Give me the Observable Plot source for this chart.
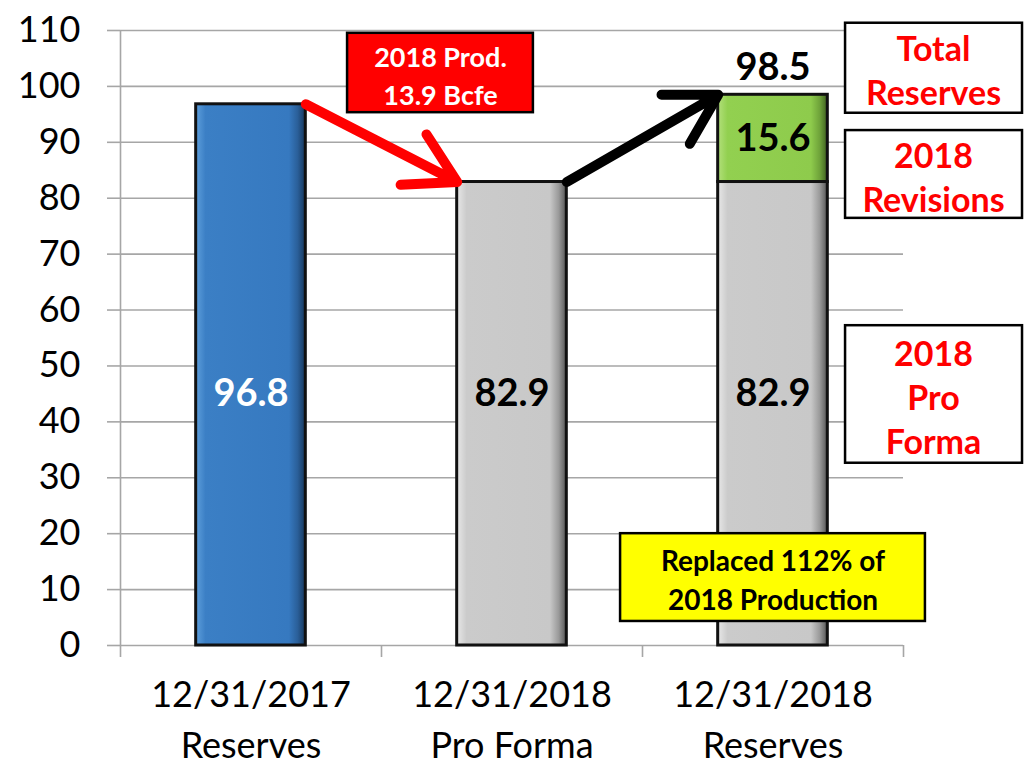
<!DOCTYPE html>
<html>
<head>
<meta charset="utf-8">
<script src="https://cdn.jsdelivr.net/npm/d3@7"></script>
<script src="https://cdn.jsdelivr.net/npm/@observablehq/plot@0.6"></script>
<style>
  html, body { margin: 0; padding: 0; background: #fff; }
  #chart svg { display: block; }
</style>
</head>
<body>
<div id="chart"></div>
<script>
// ---- data ----
const categories = ["12/31/2017\nReserves", "12/31/2018\nPro Forma", "12/31/2018\nReserves"];
const baseValues = [96.8, 82.9, 82.9];
const revisionValues = [0, 0, 15.6];
const totalReserves = 98.5;
const production2018 = 13.9;
const yTicks = [0, 10, 20, 30, 40, 50, 60, 70, 80, 90, 100, 110];

// ---- layout helpers ----
const halfBar = 0.21;
const center = i => i + 0.5;
const font = "Lato, 'Open Sans', sans-serif";

const segments = [
  {i: 0, y1: 0, y2: baseValues[0], fill: "url(#gBlue)", label: String(baseValues[0]), lf: "white", ly: 45},
  {i: 1, y1: 0, y2: baseValues[1], fill: "url(#gGray)", label: String(baseValues[1]), lf: "black", ly: 45},
  {i: 2, y1: 0, y2: baseValues[2], fill: "url(#gGray)", label: String(baseValues[2]), lf: "black", ly: 45},
  {i: 2, y1: baseValues[2], y2: baseValues[2] + revisionValues[2], fill: "url(#gGreen)", label: String(revisionValues[2]), lf: "black", ly: baseValues[2] + revisionValues[2] / 2}
];

const arrows = [
  {x1: center(0) + halfBar, y1: baseValues[0], x2: center(1) - halfBar, y2: baseValues[1], c: "#ff0000"},
  {x1: center(1) + halfBar, y1: baseValues[1], x2: center(2) - halfBar, y2: totalReserves, c: "#000000"}
];

const legendBoxes = [
  {x1: 2.778, x2: 3.456, y1: 95.2, y2: 111.3, text: "Total\nReserves", tx: 3.115, ty: 103.2},
  {x1: 2.778, x2: 3.456, y1: 76.4, y2: 92.1, text: "2018\nRevisions", tx: 3.115, ty: 84.0},
  {x1: 2.778, x2: 3.456, y1: 32.6, y2: 57.2, text: "2018\nPro\nForma", tx: 3.115, ty: 44.6}
];
const noteBox = [{x1: 1.916, x2: 3.084, y1: 4.3, y2: 20.0, text: "Replaced 112% of\n2018 Production", tx: 2.5, ty: 12.1}];
const prodBox = [{x1: 0.870, x2: 1.582, y1: 95.3, y2: 109.5, text: `2018 Prod.\n${production2018} Bcfe`, tx: 1.226, ty: 102.3}];

const plot = Plot.plot({
  width: 1027,
  height: 766,
  marginLeft: 120,
  marginRight: 124,
  marginTop: 30,
  marginBottom: 121,
  style: {fontFamily: font, background: "white"},
  x: {type: "linear", domain: [0, 3], axis: null},
  y: {domain: [0, 110], axis: null},
  marks: [
    Plot.ruleY(yTicks, {x1: 0, x2: 3, stroke: "#a6a6a6", strokeWidth: 1.6}),
    Plot.axisY(yTicks, {tickSize: 13, tickPadding: 27, fontSize: 36, stroke: "#a6a6a6", strokeWidth: 1.6, fill: "black", label: null}),
    Plot.ruleX([0], {y1: 0, y2: 110, stroke: "#a6a6a6", strokeWidth: 1.6}),
    Plot.axisX([0, 1, 2, 3], {tickSize: 12, tickFormat: () => "", stroke: "#a6a6a6", strokeWidth: 1.6, label: null}),
    Plot.text(categories, {x: (d, i) => center(i), y: 0, text: d => d, dy: 26, lineAnchor: "top", lineHeight: 1.4, fontSize: 36, fill: "black"}),
    Plot.rect(segments, {x1: d => center(d.i) - halfBar, x2: d => center(d.i) + halfBar, y1: "y1", y2: "y2", fill: "fill", stroke: "#111", strokeWidth: 3}),
    Plot.text(segments, {x: d => center(d.i), y: "ly", text: "label", fill: "lf", fontSize: 38, fontWeight: "bold"}),
    Plot.text([totalReserves], {x: center(2), y: d => d, text: d => String(d), dy: -27, fontSize: 38, fontWeight: "bold", fill: "black"}),
    Plot.arrow(arrows, {x1: "x1", y1: "y1", x2: "x2", y2: "y2", stroke: "c", strokeWidth: 10, headLength: 8.5, strokeLinecap: "round", strokeLinejoin: "round"}),
    Plot.rect(legendBoxes, {x1: "x1", x2: "x2", y1: "y1", y2: "y2", fill: "white", stroke: "black", strokeWidth: 2.5}),
    Plot.text(legendBoxes, {x: "tx", y: "ty", text: "text", fill: "#ff0000", fontSize: 34, lineHeight: 1.3, fontWeight: "bold"}),
    Plot.rect(noteBox, {x1: "x1", x2: "x2", y1: "y1", y2: "y2", fill: "#ffff00", stroke: "black", strokeWidth: 2.5}),
    Plot.text(noteBox, {x: "tx", y: "ty", text: "text", fill: "black", fontSize: 28, lineHeight: 1.4, fontWeight: "bold"}),
    Plot.rect(prodBox, {x1: "x1", x2: "x2", y1: "y1", y2: "y2", fill: "#ff0000", stroke: "black", strokeWidth: 2.5}),
    Plot.text(prodBox, {x: "tx", y: "ty", text: "text", fill: "white", fontSize: 27, lineHeight: 1.4, fontWeight: "bold"})
  ]
});

// gradients for the bevelled bar look
const svg = d3.select(plot);
const defs = svg.insert("defs", ":first-child");
function grad(id, stops) {
  const g = defs.append("linearGradient").attr("id", id).attr("x1", 0).attr("x2", 1).attr("y1", 0).attr("y2", 0);
  stops.forEach(([o, c]) => g.append("stop").attr("offset", o).attr("stop-color", c));
}
grad("gBlue", [["0%", "#5e9fdc"], ["9%", "#3b7fc5"], ["85%", "#3679c0"], ["93%", "#2a5f99"], ["100%", "#18385c"]]);
grad("gGray", [["0%", "#e8e8e8"], ["9%", "#cbcbcb"], ["85%", "#c8c8c8"], ["93%", "#9a9a9a"], ["100%", "#555"]]);
grad("gGreen", [["0%", "#b3e07c"], ["9%", "#92d050"], ["85%", "#8ecb4c"], ["93%", "#6fa33a"], ["100%", "#3f6020"]]);

document.getElementById("chart").appendChild(plot);
</script>
</body>
</html>
